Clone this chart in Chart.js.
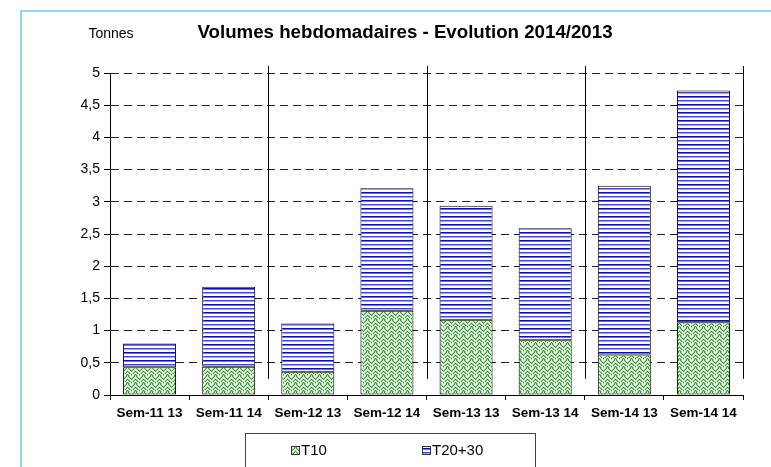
<!DOCTYPE html>
<html>
<head>
<meta charset="utf-8">
<script src="https://cdn.jsdelivr.net/npm/chart.js@4.4.1/dist/chart.umd.min.js"></script>
<style>
html,body{margin:0;padding:0;background:#fff;overflow:hidden;}
canvas{display:block;}
</style>
</head>
<body>
<canvas id="c" width="771" height="467"></canvas>
<script>
const categories = ['Sem-11 13','Sem-11 14','Sem-12 13','Sem-12 14','Sem-13 13','Sem-13 14','Sem-14 13','Sem-14 14'];
const t10 = [0.43, 0.44, 0.36, 1.31, 1.17, 0.85, 0.63, 1.13];
const t2030 = [0.37, 1.24, 0.75, 1.90, 1.77, 1.74, 2.62, 3.60];
const seriesNames = ['T10', 'T20+30'];
const yMin = 0, yMax = 5, yStep = 0.5;
const titleText = 'Volumes hebdomadaires - Evolution 2014/2013';
const unitText = 'Tonnes';

const FONT = "'Liberation Sans', Arial, sans-serif";

function makePattern(rows, colors) {
  const h = rows.length, w = rows[0].length;
  const c = document.createElement('canvas');
  c.width = w; c.height = h;
  const g = c.getContext('2d');
  for (let y = 0; y < h; y++) {
    for (let x = 0; x < w; x++) {
      g.fillStyle = colors[rows[y][x]];
      g.fillRect(x, y, 1, 1);
    }
  }
  return document.createElement('canvas').getContext('2d').createPattern(c, 'repeat');
}

const greenPattern = makePattern([
  'DLWWWLDW',
  'WDLWLDWW',
  'WWDLDWWL',
  'LWWDWWLD',
  'DLWWWLDW',
  'WDLWLDWW',
  'LWWDWWLD',
  'DWWLWWDL'
], {D:'#2f932f', L:'#9fd69a', W:'#e9f6e6'});

const bluePattern = makePattern([
  '0000', '1111', '2222', '2222', '3333', '4444', '2222', '2222'
], {'0':'#0000ff', '1':'#7070ff', '2':'#ffffff', '3':'#4040ff', '4':'#a0a0ff'});

const framePlugin = {
  id: 'frame',
  beforeDraw(chart) {
    const ctx = chart.ctx;
    ctx.save();
    ctx.fillStyle = '#fff';
    ctx.fillRect(0, 0, chart.width, chart.height);
    ctx.strokeStyle = '#8ed6f2';
    ctx.lineWidth = 2;
    ctx.strokeRect(21, 11, chart.width + 20, chart.height + 20);
    ctx.restore();
  }
};

const separatorPlugin = {
  id: 'separators',
  afterDatasetsDraw(chart) {
    const ctx = chart.ctx, xs = chart.scales.x, ys = chart.scales.y;
    const top = ys.getPixelForValue(yMax) - 7;
    const bottom = ys.getPixelForValue(0.25);
    ctx.save();
    ctx.strokeStyle = '#000';
    ctx.lineWidth = 1;
    for (let i = 2; i <= categories.length; i += 2) {
      const x = Math.round(xs.getPixelForValue(i - 0.5)) + 0.5;
      ctx.beginPath();
      ctx.moveTo(x, top);
      ctx.lineTo(x, bottom);
      ctx.stroke();
    }
    ctx.restore();
  }
};

const textPlugin = {
  id: 'texts',
  afterDraw(chart) {
    const ctx = chart.ctx;
    ctx.save();
    ctx.fillStyle = '#000';
    ctx.textBaseline = 'middle';
    ctx.textAlign = 'center';
    ctx.font = 'bold 18.7px ' + FONT;
    ctx.fillText(titleText, 405, 33);
    ctx.font = '14px ' + FONT;
    ctx.fillText(unitText, 111, 34);

    // legend
    ctx.strokeStyle = '#444';
    ctx.lineWidth = 1;
    ctx.strokeRect(245.5, 433.5, 290, 60);
    const items = chart.data.datasets;
    const xs = [291, 422];
    ctx.textAlign = 'left';
    ctx.font = '15px ' + FONT;
    items.forEach((ds, i) => {
      ctx.fillStyle = ds.backgroundColor;
      ctx.fillRect(xs[i], 446, 9, 9);
      ctx.strokeStyle = '#333';
      ctx.strokeRect(xs[i] + 0.5, 446.5, 8, 8);
      ctx.fillStyle = '#000';
      ctx.fillText(ds.label, xs[i] + 10, 451);
    });
    ctx.restore();
  }
};

new Chart(document.getElementById('c'), {
  type: 'bar',
  data: {
    labels: categories,
    datasets: [
      { label: seriesNames[0], data: t10, backgroundColor: greenPattern, borderColor: '#000', borderWidth: 1, borderSkipped: false },
      { label: seriesNames[1], data: t2030, backgroundColor: bluePattern, borderColor: '#000', borderWidth: 1, borderSkipped: false }
    ]
  },
  options: {
    responsive: false,
    animation: false,
    devicePixelRatio: 1,
    layout: { padding: { top: 73, left: 0, right: 28, bottom: 0 } },
    datasets: { bar: { barPercentage: 0.67, categoryPercentage: 1 } },
    plugins: { legend: { display: false }, title: { display: false }, tooltip: { enabled: false } },
    scales: {
      x: {
        stacked: true,
        afterFit(s) { s.height = 72; },
        grid: { display: true, drawOnChartArea: false, drawTicks: true, tickLength: 5, offset: true, color: '#000' },
        border: { display: true, color: '#000', width: 1 },
        ticks: { color: '#000', font: { family: FONT, size: 13.5, weight: 'bold' }, padding: 5, maxRotation: 0, autoSkip: false }
      },
      y: {
        stacked: true,
        min: yMin, max: yMax,
        afterFit(s) { s.width = 110; },
        grid: { color: '#222', lineWidth: 1, tickLength: 6, tickColor: '#000', tickBorderDash: [] },
        border: { display: true, color: '#000', width: 1, dash: [8, 5] },
        ticks: {
          stepSize: yStep, color: '#000', padding: 4,
          font: { family: FONT, size: 14 },
          callback: v => String(Math.round(v * 10) / 10).replace('.', ',')
        }
      }
    }
  },
  plugins: [framePlugin, separatorPlugin, textPlugin]
});
</script>
</body>
</html>
